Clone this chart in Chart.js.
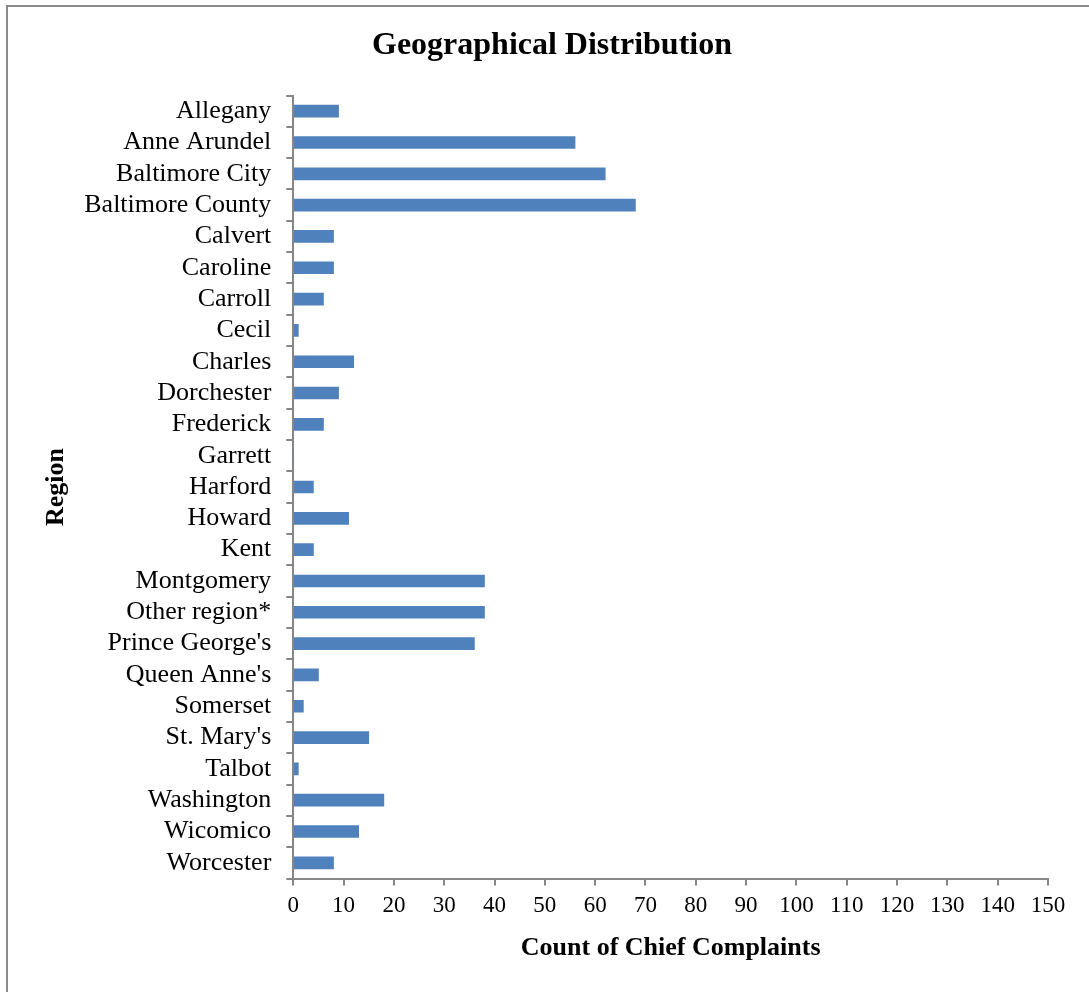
<!DOCTYPE html>
<html>
<head>
<meta charset="utf-8">
<script src="https://cdn.jsdelivr.net/npm/chart.js@4.4.1/dist/chart.umd.min.js"></script>
<style>
    body { margin: 0; background: #fff; overflow: hidden; }
    #wrap { position: relative; width: 1089px; height: 992px; }
    #frame {
        position: absolute; left: 6px; top: 5px; width: 1200px; height: 1100px;
        border-left: 2px solid #8a8a8a; border-top: 2px solid #8a8a8a;
    }
    #chart { position: absolute; left: 0; top: 0; }
</style>
</head>
<body>
<div id="wrap">
    <div id="frame"></div>
    <canvas id="chart" width="1089" height="992"></canvas>
</div>
<script>
const regions = [
    'Allegany', 'Anne Arundel', 'Baltimore City', 'Baltimore County', 'Calvert',
    'Caroline', 'Carroll', 'Cecil', 'Charles', 'Dorchester', 'Frederick', 'Garrett',
    'Harford', 'Howard', 'Kent', 'Montgomery', 'Other region*', "Prince George's",
    "Queen Anne's", 'Somerset', "St. Mary's", 'Talbot', 'Washington', 'Wicomico', 'Worcester'
];
const complaintCounts = [
    9, 56, 62, 68, 8,
    8, 6, 1, 12, 9, 6, 0,
    4, 11, 4, 38, 38, 36,
    5, 2, 15, 1, 18, 13, 8
];
const xTickMin = 0;
const xTickMax = 150;
const xTickStep = 10;

const serif = '"Liberation Serif", "Times New Roman", serif';
const axisGray = '#868686';

// main title drawn centred over the plot like the original
const titlePlugin = {
    id: 'topTitle',
    afterDraw(chart) {
        const ctx = chart.ctx;
        ctx.save();
        ctx.font = 'bold 32px ' + serif;
        ctx.fillStyle = '#000';
        ctx.textAlign = 'center';
        ctx.textBaseline = 'middle';
        ctx.fillText('Geographical Distribution', 552, 46);
        ctx.restore();
    }
};

new Chart(document.getElementById('chart').getContext('2d'), {
    type: 'bar',
    data: {
        labels: regions,
        datasets: [{
            label: 'Count of Chief Complaints',
            data: complaintCounts,
            backgroundColor: '#4f81bd',
            borderWidth: 0,
            barThickness: 12
        }]
    },
    options: {
        indexAxis: 'y',
        responsive: false,
        animation: false,
        layout: { padding: { left: 0, right: 41, top: 95.5, bottom: 0 } },
        plugins: {
            legend: { display: false },
            tooltip: { enabled: false }
        },
        scales: {
            x: {
                min: xTickMin,
                max: xTickMax,
                ticks: {
                    stepSize: xTickStep,
                    color: '#000',
                    padding: 7,
                    font: { family: serif, size: 23 }
                },
                grid: {
                    drawOnChartArea: false,
                    tickLength: 7,
                    color: axisGray,
                    lineWidth: 2
                },
                border: { color: axisGray, width: 2 },
                title: {
                    display: true,
                    text: 'Count of Chief Complaints',
                    color: '#000',
                    font: { family: serif, size: 26, weight: 'bold' },
                    padding: { top: 0, bottom: 28 }
                },
                afterFit(scale) { scale.height = 113.5; }
            },
            y: {
                ticks: {
                    color: '#000',
                    padding: 15,
                    autoSkip: false,
                    font: { family: serif, size: 26 }
                },
                grid: {
                    drawOnChartArea: false,
                    tickLength: 7,
                    color: axisGray,
                    lineWidth: 2
                },
                border: { color: axisGray, width: 2 },
                title: {
                    display: true,
                    text: 'Region',
                    color: '#000',
                    font: { family: serif, size: 26, weight: 'bold' },
                    padding: { top: 41, bottom: 0 }
                },
                afterFit(scale) { scale.width = 293.3; }
            }
        }
    },
    plugins: [titlePlugin]
});
</script>
</body>
</html>
